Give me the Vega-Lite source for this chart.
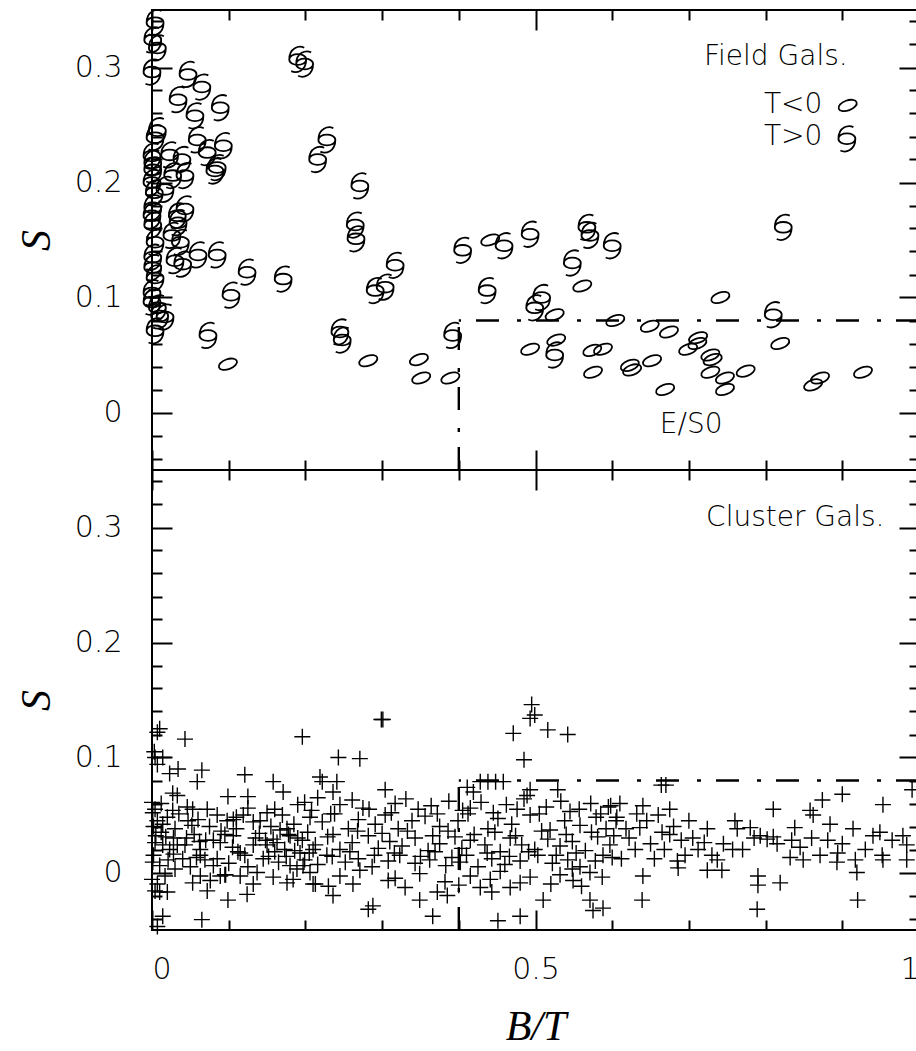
{
  "$schema": "https://vega.github.io/schema/vega-lite/v6.json",
  "background": "white",
  "padding": {"left": 14, "top": 5, "right": 0, "bottom": 0},
  "spacing": 0,
  "bounds": "flush",
  "datasets": {
    "field": [
      {"bt":0.004,"s":0.339,"type":"T>0"},{"bt":0.001,"s":0.324,"type":"T>0"},{"bt":0.007,"s":0.317,"type":"T>0"},{"bt":0.000,"s":0.296,"type":"T>0"},
      {"bt":0.007,"s":0.245,"type":"T>0"},{"bt":0.004,"s":0.239,"type":"T>0"},{"bt":0.000,"s":0.223,"type":"T>0"},{"bt":0.001,"s":0.217,"type":"T>0"},
      {"bt":0.001,"s":0.211,"type":"T>0"},{"bt":0.000,"s":0.200,"type":"T>0"},{"bt":0.003,"s":0.191,"type":"T>0"},{"bt":0.001,"s":0.178,"type":"T>0"},
      {"bt":0.000,"s":0.171,"type":"T>0"},{"bt":0.001,"s":0.163,"type":"T>0"},{"bt":0.004,"s":0.148,"type":"T>0"},{"bt":0.001,"s":0.135,"type":"T>0"},
      {"bt":0.001,"s":0.126,"type":"T>0"},{"bt":0.004,"s":0.117,"type":"T>0"},{"bt":0.000,"s":0.104,"type":"T>0"},{"bt":0.000,"s":0.096,"type":"T>0"},
      {"bt":0.007,"s":0.091,"type":"T>0"},{"bt":0.010,"s":0.084,"type":"T>0"},{"bt":0.004,"s":0.071,"type":"T>0"},{"bt":0.017,"s":0.083,"type":"T>0"},
      {"bt":0.047,"s":0.294,"type":"T>0"},{"bt":0.065,"s":0.283,"type":"T>0"},{"bt":0.034,"s":0.272,"type":"T>0"},{"bt":0.089,"s":0.265,"type":"T>0"},
      {"bt":0.056,"s":0.258,"type":"T>0"},{"bt":0.059,"s":0.237,"type":"T>0"},{"bt":0.072,"s":0.226,"type":"T>0"},{"bt":0.093,"s":0.232,"type":"T>0"},
      {"bt":0.082,"s":0.210,"type":"T>0"},{"bt":0.085,"s":0.213,"type":"T>0"},{"bt":0.023,"s":0.224,"type":"T>0"},{"bt":0.039,"s":0.220,"type":"T>0"},
      {"bt":0.043,"s":0.206,"type":"T>0"},{"bt":0.027,"s":0.206,"type":"T>0"},{"bt":0.017,"s":0.194,"type":"T>0"},{"bt":0.033,"s":0.171,"type":"T>0"},
      {"bt":0.043,"s":0.177,"type":"T>0"},{"bt":0.034,"s":0.165,"type":"T>0"},{"bt":0.026,"s":0.154,"type":"T>0"},{"bt":0.037,"s":0.148,"type":"T>0"},
      {"bt":0.040,"s":0.129,"type":"T>0"},{"bt":0.030,"s":0.132,"type":"T>0"},{"bt":0.060,"s":0.137,"type":"T>0"},{"bt":0.085,"s":0.137,"type":"T>0"},
      {"bt":0.124,"s":0.122,"type":"T>0"},{"bt":0.103,"s":0.102,"type":"T>0"},{"bt":0.171,"s":0.116,"type":"T>0"},{"bt":0.073,"s":0.067,"type":"T>0"},
      {"bt":0.190,"s":0.307,"type":"T>0"},{"bt":0.199,"s":0.303,"type":"T>0"},{"bt":0.228,"s":0.237,"type":"T>0"},{"bt":0.216,"s":0.220,"type":"T>0"},
      {"bt":0.271,"s":0.197,"type":"T>0"},{"bt":0.265,"s":0.163,"type":"T>0"},{"bt":0.266,"s":0.151,"type":"T>0"},{"bt":0.317,"s":0.128,"type":"T>0"},
      {"bt":0.304,"s":0.109,"type":"T>0"},{"bt":0.291,"s":0.106,"type":"T>0"},{"bt":0.245,"s":0.070,"type":"T>0"},{"bt":0.248,"s":0.063,"type":"T>0"},
      {"bt":0.392,"s":0.067,"type":"T>0"},{"bt":0.405,"s":0.141,"type":"T>0"},{"bt":0.459,"s":0.145,"type":"T>0"},{"bt":0.493,"s":0.155,"type":"T>0"},
      {"bt":0.567,"s":0.161,"type":"T>0"},{"bt":0.571,"s":0.154,"type":"T>0"},{"bt":0.600,"s":0.145,"type":"T>0"},{"bt":0.548,"s":0.130,"type":"T>0"},
      {"bt":0.437,"s":0.106,"type":"T>0"},{"bt":0.499,"s":0.091,"type":"T>0"},{"bt":0.508,"s":0.100,"type":"T>0"},{"bt":0.525,"s":0.050,"type":"T>0"},
      {"bt":0.810,"s":0.085,"type":"T>0"},{"bt":0.823,"s":0.161,"type":"T>0"},
      {"bt":0.099,"s":0.042,"type":"T<0"},{"bt":0.282,"s":0.045,"type":"T<0"},{"bt":0.348,"s":0.046,"type":"T<0"},{"bt":0.351,"s":0.030,"type":"T<0"},
      {"bt":0.389,"s":0.030,"type":"T<0"},{"bt":0.441,"s":0.150,"type":"T<0"},{"bt":0.561,"s":0.110,"type":"T<0"},{"bt":0.525,"s":0.085,"type":"T<0"},
      {"bt":0.604,"s":0.080,"type":"T<0"},{"bt":0.493,"s":0.055,"type":"T<0"},{"bt":0.527,"s":0.063,"type":"T<0"},{"bt":0.574,"s":0.054,"type":"T<0"},
      {"bt":0.588,"s":0.055,"type":"T<0"},{"bt":0.575,"s":0.035,"type":"T<0"},{"bt":0.623,"s":0.041,"type":"T<0"},{"bt":0.626,"s":0.037,"type":"T<0"},
      {"bt":0.649,"s":0.075,"type":"T<0"},{"bt":0.674,"s":0.070,"type":"T<0"},{"bt":0.652,"s":0.045,"type":"T<0"},{"bt":0.669,"s":0.020,"type":"T<0"},
      {"bt":0.699,"s":0.055,"type":"T<0"},{"bt":0.712,"s":0.065,"type":"T<0"},{"bt":0.711,"s":0.060,"type":"T<0"},{"bt":0.728,"s":0.050,"type":"T<0"},
      {"bt":0.731,"s":0.046,"type":"T<0"},{"bt":0.728,"s":0.035,"type":"T<0"},{"bt":0.747,"s":0.030,"type":"T<0"},{"bt":0.747,"s":0.020,"type":"T<0"},
      {"bt":0.774,"s":0.036,"type":"T<0"},{"bt":0.741,"s":0.100,"type":"T<0"},{"bt":0.819,"s":0.060,"type":"T<0"},{"bt":0.862,"s":0.024,"type":"T<0"},
      {"bt":0.871,"s":0.030,"type":"T<0"},{"bt":0.927,"s":0.035,"type":"T<0"}
    ],
    "cluster": [
      {"bt":0.007,"s":0.122},{"bt":0.010,"s":0.125},{"bt":0.043,"s":0.116},{"bt":0.003,"s":0.105},{"bt":0.004,"s":0.100},{"bt":0.007,"s":0.094},
      {"bt":0.014,"s":0.100},{"bt":0.023,"s":0.086},{"bt":0.034,"s":0.090},{"bt":0.065,"s":0.089},{"bt":0.059,"s":0.079},{"bt":0.121,"s":0.085},
      {"bt":0.158,"s":0.079},{"bt":0.171,"s":0.070},{"bt":0.196,"s":0.118},{"bt":0.190,"s":0.059},{"bt":0.027,"s":0.069},{"bt":0.033,"s":0.067},
      {"bt":0.099,"s":0.066},{"bt":0.125,"s":0.066},{"bt":0.000,"s":0.061},{"bt":0.004,"s":0.055},{"bt":0.001,"s":0.052},{"bt":0.007,"s":0.045},
      {"bt":0.014,"s":0.042},{"bt":0.027,"s":0.054},{"bt":0.046,"s":0.057},{"bt":0.053,"s":0.055},{"bt":0.072,"s":0.055},{"bt":0.047,"s":0.045},
      {"bt":0.052,"s":0.041},{"bt":0.098,"s":0.045},{"bt":0.106,"s":0.046},{"bt":0.119,"s":0.050},{"bt":0.132,"s":0.044},{"bt":0.141,"s":0.045},
      {"bt":0.167,"s":0.037},{"bt":0.176,"s":0.038},{"bt":0.163,"s":0.026},{"bt":0.180,"s":0.032},{"bt":0.004,"s":0.026},{"bt":0.014,"s":0.024},
      {"bt":0.023,"s":0.020},{"bt":0.033,"s":0.024},{"bt":0.043,"s":0.024},{"bt":0.063,"s":0.020},{"bt":0.080,"s":0.028},{"bt":0.089,"s":0.026},
      {"bt":0.106,"s":0.032},{"bt":0.115,"s":0.017},{"bt":0.121,"s":0.015},{"bt":0.132,"s":0.024},{"bt":0.150,"s":0.024},{"bt":0.158,"s":0.029},
      {"bt":0.173,"s":0.020},{"bt":0.193,"s":0.017},{"bt":0.210,"s":0.020},{"bt":0.001,"s":0.009},{"bt":0.010,"s":0.006},{"bt":0.021,"s":0.011},
      {"bt":0.063,"s":0.015},{"bt":0.069,"s":0.011},{"bt":0.080,"s":0.006},{"bt":0.095,"s":-0.002},{"bt":0.096,"s":-0.002},{"bt":0.115,"s":-0.003},
      {"bt":0.137,"s":0.000},{"bt":0.158,"s":-0.004},{"bt":0.180,"s":0.006},{"bt":0.189,"s":0.003},{"bt":0.197,"s":0.006},{"bt":0.210,"s":-0.010},
      {"bt":0.000,"s":-0.006},{"bt":0.007,"s":-0.010},{"bt":0.017,"s":-0.003},{"bt":0.053,"s":-0.009},{"bt":0.063,"s":-0.003},{"bt":0.076,"s":-0.007},
      {"bt":0.089,"s":-0.003},{"bt":0.132,"s":-0.010},{"bt":0.176,"s":-0.009},{"bt":0.184,"s":-0.006},{"bt":0.004,"s":-0.016},{"bt":0.010,"s":-0.017},
      {"bt":0.020,"s":-0.017},{"bt":0.072,"s":-0.016},{"bt":0.124,"s":-0.019},{"bt":0.099,"s":-0.024},{"bt":0.014,"s":-0.038},{"bt":0.065,"s":-0.041},
      {"bt":0.007,"s":-0.047},
      {"bt":0.012,"s":0.035},{"bt":0.030,"s":0.038},{"bt":0.055,"s":0.033},{"bt":0.075,"s":0.040},{"bt":0.090,"s":0.036},{"bt":0.110,"s":0.038},
      {"bt":0.140,"s":0.034},{"bt":0.155,"s":0.040},{"bt":0.185,"s":0.042},{"bt":0.020,"s":0.048},{"bt":0.060,"s":0.046},{"bt":0.085,"s":0.050},
      {"bt":0.125,"s":0.056},{"bt":0.150,"s":0.052},{"bt":0.170,"s":0.050},{"bt":0.005,"s":0.032},{"bt":0.040,"s":0.012},{"bt":0.050,"s":0.005},
      {"bt":0.085,"s":0.012},{"bt":0.100,"s":0.008},{"bt":0.125,"s":0.005},{"bt":0.145,"s":0.012},{"bt":0.165,"s":0.009},{"bt":0.175,"s":0.014},
      {"bt":0.030,"s":0.003},{"bt":0.045,"s":0.030},{"bt":0.070,"s":0.028},{"bt":0.105,"s":0.022},{"bt":0.135,"s":0.030},{"bt":0.160,"s":0.018},
      {"bt":0.190,"s":0.030},{"bt":0.002,"s":0.015},{"bt":0.002,"s":0.040},{"bt":0.012,"s":0.060},{"bt":0.028,"s":0.030},
      {"bt":0.018,"s":0.031},{"bt":0.062,"s":0.027},{"bt":0.095,"s":0.033},{"bt":0.148,"s":0.028},{"bt":0.178,"s":0.033},
      {"bt":0.028,"s":0.016},{"bt":0.058,"s":0.013},{"bt":0.112,"s":0.018},{"bt":0.152,"s":0.014},{"bt":0.186,"s":0.019},
      {"bt":0.035,"s":0.051},{"bt":0.110,"s":0.048},{"bt":0.160,"s":0.055},
      {"bt":0.495,"s":0.146},{"bt":0.499,"s":0.137},{"bt":0.493,"s":0.134},{"bt":0.471,"s":0.121},{"bt":0.516,"s":0.124},{"bt":0.542,"s":0.120},
      {"bt":0.485,"s":0.098},{"bt":0.299,"s":0.133},{"bt":0.301,"s":0.133},{"bt":0.243,"s":0.100},{"bt":0.271,"s":0.099},{"bt":0.219,"s":0.083},
      {"bt":0.222,"s":0.079},{"bt":0.241,"s":0.079},{"bt":0.236,"s":0.070},{"bt":0.304,"s":0.072},{"bt":0.411,"s":0.074},{"bt":0.419,"s":0.070},
      {"bt":0.493,"s":0.072},{"bt":0.489,"s":0.067},{"bt":0.529,"s":0.072},{"bt":0.428,"s":0.079},{"bt":0.438,"s":0.079},{"bt":0.448,"s":0.079},
      {"bt":0.458,"s":0.079},{"bt":0.213,"s":-0.010},{"bt":0.236,"s":-0.020},{"bt":0.282,"s":-0.032},{"bt":0.288,"s":-0.029},{"bt":0.308,"s":-0.007},
      {"bt":0.349,"s":-0.024},{"bt":0.372,"s":-0.017},{"bt":0.385,"s":-0.020},{"bt":0.366,"s":-0.038},{"bt":0.451,"s":-0.042},{"bt":0.480,"s":-0.038},
      {"bt":0.443,"s":-0.017},{"bt":0.441,"s":-0.006},{"bt":0.467,"s":-0.013},{"bt":0.480,"s":-0.009},{"bt":0.510,"s":-0.024},{"bt":0.549,"s":-0.007},
      {"bt":0.571,"s":-0.024},{"bt":0.588,"s":-0.031},{"bt":0.575,"s":-0.033},{"bt":0.587,"s":-0.004},{"bt":0.548,"s":0.003},
      {"bt":0.199,"s":0.061},{"bt":0.216,"s":0.065},{"bt":0.245,"s":0.059},{"bt":0.261,"s":0.063},{"bt":0.275,"s":0.056},{"bt":0.317,"s":0.060},
      {"bt":0.331,"s":0.064},{"bt":0.364,"s":0.058},{"bt":0.387,"s":0.062},{"bt":0.415,"s":0.056},{"bt":0.429,"s":0.061},{"bt":0.462,"s":0.059},
      {"bt":0.485,"s":0.064},{"bt":0.514,"s":0.057},{"bt":0.533,"s":0.062},{"bt":0.557,"s":0.055},{"bt":0.572,"s":0.060},{"bt":0.598,"s":0.058},
      {"bt":0.206,"s":0.048},{"bt":0.222,"s":0.044},{"bt":0.233,"s":0.051},{"bt":0.256,"s":0.038},{"bt":0.269,"s":0.046},{"bt":0.291,"s":0.042},
      {"bt":0.304,"s":0.050},{"bt":0.321,"s":0.038},{"bt":0.339,"s":0.045},{"bt":0.356,"s":0.049},{"bt":0.375,"s":0.040},{"bt":0.399,"s":0.045},
      {"bt":0.412,"s":0.051},{"bt":0.438,"s":0.038},{"bt":0.451,"s":0.047},{"bt":0.469,"s":0.042},{"bt":0.493,"s":0.050},{"bt":0.519,"s":0.037},
      {"bt":0.538,"s":0.045},{"bt":0.558,"s":0.041},{"bt":0.579,"s":0.048},{"bt":0.592,"s":0.038},{"bt":0.605,"s":0.045},
      {"bt":0.196,"s":0.028},{"bt":0.213,"s":0.024},{"bt":0.229,"s":0.031},{"bt":0.245,"s":0.020},{"bt":0.261,"s":0.026},{"bt":0.282,"s":0.032},
      {"bt":0.295,"s":0.021},{"bt":0.310,"s":0.027},{"bt":0.326,"s":0.023},{"bt":0.343,"s":0.030},{"bt":0.360,"s":0.019},{"bt":0.375,"s":0.025},
      {"bt":0.395,"s":0.031},{"bt":0.404,"s":0.021},{"bt":0.415,"s":0.028},{"bt":0.434,"s":0.024},{"bt":0.454,"s":0.018},{"bt":0.467,"s":0.030},
      {"bt":0.482,"s":0.024},{"bt":0.499,"s":0.020},{"bt":0.516,"s":0.029},{"bt":0.532,"s":0.023},{"bt":0.548,"s":0.027},{"bt":0.565,"s":0.019},
      {"bt":0.581,"s":0.031},{"bt":0.597,"s":0.024},
      {"bt":0.199,"s":0.011},{"bt":0.216,"s":0.007},{"bt":0.235,"s":0.014},{"bt":0.252,"s":0.009},{"bt":0.269,"s":0.012},{"bt":0.287,"s":0.005},
      {"bt":0.308,"s":0.010},{"bt":0.323,"s":0.015},{"bt":0.343,"s":0.008},{"bt":0.362,"s":0.011},{"bt":0.383,"s":0.006},{"bt":0.391,"s":0.013},
      {"bt":0.402,"s":0.009},{"bt":0.425,"s":0.005},{"bt":0.443,"s":0.012},{"bt":0.460,"s":0.007},{"bt":0.480,"s":0.010},{"bt":0.503,"s":0.015},
      {"bt":0.522,"s":0.008},{"bt":0.542,"s":0.011},{"bt":0.558,"s":0.005},{"bt":0.578,"s":0.010},{"bt":0.600,"s":0.013},
      {"bt":0.206,"s":0.000},{"bt":0.245,"s":-0.003},{"bt":0.271,"s":0.002},{"bt":0.317,"s":-0.005},{"bt":0.349,"s":-0.001},{"bt":0.382,"s":-0.008},
      {"bt":0.415,"s":-0.003},{"bt":0.454,"s":0.001},{"bt":0.493,"s":-0.004},{"bt":0.532,"s":-0.002},{"bt":0.571,"s":0.000},
      {"bt":0.208,"s":0.054},{"bt":0.238,"s":0.051},{"bt":0.283,"s":0.055},{"bt":0.312,"s":0.052},{"bt":0.347,"s":0.055},{"bt":0.372,"s":0.051},
      {"bt":0.405,"s":0.054},{"bt":0.445,"s":0.052},{"bt":0.476,"s":0.055},{"bt":0.505,"s":0.051},{"bt":0.545,"s":0.053},{"bt":0.585,"s":0.051},
      {"bt":0.203,"s":0.035},{"bt":0.236,"s":0.033},{"bt":0.268,"s":0.036},{"bt":0.300,"s":0.034},{"bt":0.333,"s":0.036},{"bt":0.366,"s":0.032},
      {"bt":0.386,"s":0.036},{"bt":0.420,"s":0.033},{"bt":0.447,"s":0.035},{"bt":0.474,"s":0.032},{"bt":0.508,"s":0.036},{"bt":0.540,"s":0.033},
      {"bt":0.573,"s":0.035},{"bt":0.602,"s":0.032},
      {"bt":0.205,"s":0.017},{"bt":0.228,"s":0.015},{"bt":0.258,"s":0.018},{"bt":0.290,"s":0.015},{"bt":0.316,"s":0.017},{"bt":0.350,"s":0.014},
      {"bt":0.369,"s":0.018},{"bt":0.410,"s":0.015},{"bt":0.437,"s":0.017},{"bt":0.466,"s":0.014},{"bt":0.491,"s":0.018},{"bt":0.527,"s":0.015},
      {"bt":0.553,"s":0.017},{"bt":0.588,"s":0.015},
      {"bt":0.230,"s":-0.012},{"bt":0.262,"s":-0.010},{"bt":0.330,"s":-0.013},{"bt":0.400,"s":-0.011},{"bt":0.428,"s":-0.013},{"bt":0.520,"s":-0.010},
      {"bt":0.560,"s":-0.012},
      {"bt":0.664,"s":0.076},{"bt":0.670,"s":0.076},{"bt":0.595,"s":0.057},{"bt":0.606,"s":0.048},{"bt":0.632,"s":0.051},{"bt":0.636,"s":0.039},
      {"bt":0.665,"s":0.035},{"bt":0.675,"s":0.033},{"bt":0.724,"s":0.038},{"bt":0.760,"s":0.045},{"bt":0.763,"s":0.038},{"bt":0.780,"s":0.039},
      {"bt":0.810,"s":0.055},{"bt":0.793,"s":0.032},{"bt":0.802,"s":0.029},{"bt":0.810,"s":0.031},{"bt":0.838,"s":0.039},{"bt":0.834,"s":0.028},
      {"bt":0.858,"s":0.054},{"bt":0.862,"s":0.050},{"bt":0.874,"s":0.063},{"bt":0.900,"s":0.068},{"bt":0.884,"s":0.042},{"bt":0.881,"s":0.028},
      {"bt":0.914,"s":0.038},{"bt":0.940,"s":0.032},{"bt":0.949,"s":0.035},{"bt":0.953,"s":0.059},{"bt":0.952,"s":0.015},{"bt":0.979,"s":0.032},
      {"bt":0.991,"s":0.072},{"bt":0.984,"s":0.011},{"bt":0.984,"s":0.024},{"bt":0.639,"s":-0.024},{"bt":0.640,"s":-0.003},{"bt":0.686,"s":0.004},
      {"bt":0.724,"s":0.002},{"bt":0.743,"s":0.002},{"bt":0.737,"s":0.011},{"bt":0.757,"s":0.020},{"bt":0.790,"s":-0.003},{"bt":0.790,"s":-0.011},
      {"bt":0.789,"s":-0.032},{"bt":0.819,"s":-0.009},{"bt":0.832,"s":0.013},{"bt":0.849,"s":0.011},{"bt":0.871,"s":0.015},{"bt":0.894,"s":0.017},
      {"bt":0.893,"s":0.009},{"bt":0.917,"s":0.011},{"bt":0.919,"s":0.000},{"bt":0.920,"s":-0.024},{"bt":0.953,"s":0.011},
      {"bt":0.610,"s":0.060},{"bt":0.622,"s":0.030},{"bt":0.630,"s":0.020},{"bt":0.645,"s":0.045},{"bt":0.650,"s":0.025},{"bt":0.655,"s":0.012},
      {"bt":0.660,"s":0.050},{"bt":0.668,"s":0.020},{"bt":0.680,"s":0.040},{"bt":0.690,"s":0.028},{"bt":0.695,"s":0.015},{"bt":0.700,"s":0.045},
      {"bt":0.612,"s":0.012},{"bt":0.618,"s":0.038},{"bt":0.640,"s":0.058},{"bt":0.675,"s":0.055},{"bt":0.685,"s":0.010},{"bt":0.705,"s":0.030},
      {"bt":0.712,"s":0.020},{"bt":0.720,"s":0.026},{"bt":0.730,"s":0.015},{"bt":0.745,"s":0.025},{"bt":0.770,"s":0.020},{"bt":0.785,"s":0.030},
      {"bt":0.815,"s":0.025},{"bt":0.845,"s":0.022},{"bt":0.860,"s":0.030},{"bt":0.900,"s":0.025},{"bt":0.930,"s":0.020},{"bt":0.965,"s":0.028}
    ],
    "cutV": [{"bt":0.4,"s":-0.05,"bt2":0.4,"s2":0.08}],
    "cutH": [{"bt":1.0,"s":0.08,"bt2":0.4,"s2":0.08}],
    "fieldNotes": [
      {"bt":0.907,"s":0.309,"label":"Field Gals."},
      {"bt":0.874,"s":0.267,"label":"T<0"},
      {"bt":0.874,"s":0.240,"label":"T>0"}
    ],
    "fieldKey": [
      {"bt":0.907,"s":0.267,"type":"T<0"},
      {"bt":0.906,"s":0.238,"type":"T>0"}
    ],
    "boxNote": [{"bt":0.703,"s":-0.011,"label":"E/S0"}],
    "clusterNote": [{"bt":0.955,"s":0.308,"label":"Cluster Gals."}]
  },
  "vconcat": [
    {
      "width": 767,
      "height": 460,
      "resolve": {"axis": {"x": "independent", "y": "independent"}},
      "layer": [
        {
          "data": {"name": "field"},
          "transform": [{"filter": "datum.type === 'T<0'"}],
          "mark": {"type": "point", "shape": "M0.893,-0.325A0.95,0.5,-20,1,0,-0.893,0.325A0.95,0.5,-20,1,0,0.893,-0.325Z", "size": 400, "filled": false, "stroke": "black", "strokeWidth": 1.8, "opacity": 1},
          "encoding": {
            "x": {"field": "bt", "type": "quantitative", "scale": {"domain": [0, 1], "nice": false, "zero": false},
                  "axis": {"orient": "bottom", "values": [0, 0.5, 1], "tickSize": 20, "offset": -20, "labels": false, "title": null}},
            "y": {"field": "s", "type": "quantitative", "scale": {"domain": [-0.05, 0.35], "nice": false, "zero": false},
                  "axis": {"orient": "left", "values": [0, 0.1, 0.2, 0.3], "format": ".1~f", "tickSize": 20, "offset": -20, "labelPadding": 30, "title": "S", "titlePadding": 16}}
          }
        },
        {
          "data": {"name": "field"},
          "transform": [{"filter": "datum.type === 'T>0'"}],
          "mark": {"type": "point", "shape": "M0.5,-0.9C0.1,-1.1,-0.65,-0.9,-0.65,0C-0.65,0.55,0.65,0.55,0.65,0C0.65,-0.55,-0.65,-0.55,-0.65,0M0.65,0C0.65,0.9,-0.1,1.1,-0.5,0.9", "size": 676, "filled": false, "stroke": "black", "strokeWidth": 1.8, "opacity": 1},
          "encoding": {
            "x": {"field": "bt", "type": "quantitative", "scale": {"domain": [0, 1], "nice": false, "zero": false},
                  "axis": {"orient": "bottom", "values": [0.1, 0.2, 0.3, 0.4, 0.6, 0.7, 0.8, 0.9], "tickSize": 10, "offset": -10, "labels": false, "title": null}},
            "y": {"field": "s", "type": "quantitative", "scale": {"domain": [-0.05, 0.35], "nice": false, "zero": false},
                  "axis": {"orient": "left", "values": [-0.04, -0.02, 0.02, 0.04, 0.06, 0.08, 0.12, 0.14, 0.16, 0.18, 0.22, 0.24, 0.26, 0.28, 0.32, 0.34], "tickSize": 10, "offset": -10, "labels": false, "title": null}}
          }
        },
        {
          "data": {"name": "cutV"},
          "mark": {"type": "rule", "stroke": "black", "strokeWidth": 2.4, "strokeDash": [23, 15, 4, 18]},
          "encoding": {
            "x": {"field": "bt", "type": "quantitative", "scale": {"domain": [0, 1], "nice": false, "zero": false},
                  "axis": {"orient": "top", "values": [0, 0.5, 1], "tickSize": 20, "offset": -20, "labels": false, "title": null}},
            "y": {"field": "s", "type": "quantitative", "scale": {"domain": [-0.05, 0.35], "nice": false, "zero": false},
                  "axis": {"orient": "right", "values": [0, 0.1, 0.2, 0.3], "tickSize": 20, "offset": -20, "labels": false, "title": null}},
            "x2": {"field": "bt2"},
            "y2": {"field": "s2"}
          }
        },
        {
          "data": {"name": "cutH"},
          "mark": {"type": "rule", "stroke": "black", "strokeWidth": 2.4, "strokeDash": [23, 15, 4, 18]},
          "encoding": {
            "x": {"field": "bt", "type": "quantitative", "scale": {"domain": [0, 1], "nice": false, "zero": false},
                  "axis": {"orient": "top", "values": [0.1, 0.2, 0.3, 0.4, 0.6, 0.7, 0.8, 0.9], "tickSize": 10, "offset": -10, "labels": false, "title": null}},
            "y": {"field": "s", "type": "quantitative", "scale": {"domain": [-0.05, 0.35], "nice": false, "zero": false},
                  "axis": {"orient": "right", "values": [-0.04, -0.02, 0.02, 0.04, 0.06, 0.08, 0.12, 0.14, 0.16, 0.18, 0.22, 0.24, 0.26, 0.28, 0.32, 0.34], "tickSize": 10, "offset": -10, "labels": false, "title": null}},
            "x2": {"field": "bt2"},
            "y2": {"field": "s2"}
          }
        },
        {
          "data": {"name": "fieldNotes"},
          "mark": {"type": "text", "align": "right", "baseline": "middle", "font": "DejaVu Sans", "fontWeight": 200, "fontSize": 28, "color": "black"},
          "encoding": {
            "x": {"field": "bt", "type": "quantitative", "axis": null},
            "y": {"field": "s", "type": "quantitative", "axis": null},
            "text": {"field": "label"}
          }
        },
        {
          "data": {"name": "boxNote"},
          "mark": {"type": "text", "align": "center", "baseline": "middle", "font": "DejaVu Sans", "fontWeight": 200, "fontSize": 28, "color": "black"},
          "encoding": {
            "x": {"field": "bt", "type": "quantitative", "axis": null},
            "y": {"field": "s", "type": "quantitative", "axis": null},
            "text": {"field": "label"}
          }
        },
        {
          "data": {"name": "fieldKey"},
          "transform": [{"filter": "datum.type === 'T<0'"}],
          "mark": {"type": "point", "shape": "M0.893,-0.325A0.95,0.5,-20,1,0,-0.893,0.325A0.95,0.5,-20,1,0,0.893,-0.325Z", "size": 400, "filled": false, "stroke": "black", "strokeWidth": 1.8, "opacity": 1},
          "encoding": {
            "x": {"field": "bt", "type": "quantitative", "axis": null},
            "y": {"field": "s", "type": "quantitative", "axis": null}
          }
        },
        {
          "data": {"name": "fieldKey"},
          "transform": [{"filter": "datum.type === 'T>0'"}],
          "mark": {"type": "point", "shape": "M0.5,-0.9C0.1,-1.1,-0.65,-0.9,-0.65,0C-0.65,0.55,0.65,0.55,0.65,0C0.65,-0.55,-0.65,-0.55,-0.65,0M0.65,0C0.65,0.9,-0.1,1.1,-0.5,0.9", "size": 676, "filled": false, "stroke": "black", "strokeWidth": 1.8, "opacity": 1},
          "encoding": {
            "x": {"field": "bt", "type": "quantitative", "axis": null},
            "y": {"field": "s", "type": "quantitative", "axis": null}
          }
        }
      ]
    },
    {
      "width": 767,
      "height": 460,
      "resolve": {"axis": {"x": "independent", "y": "independent"}},
      "layer": [
        {
          "data": {"name": "cluster"},
          "mark": {"type": "point", "shape": "M-1,0H1M0,-1V1", "size": 256, "filled": false, "stroke": "black", "strokeWidth": 1.4, "opacity": 1},
          "encoding": {
            "x": {"field": "bt", "type": "quantitative", "scale": {"domain": [0, 1], "nice": false, "zero": false},
                  "axis": {"orient": "bottom", "values": [0, 0.5, 1], "format": ".1~f", "tickSize": 20, "offset": -20, "labelPadding": 24, "title": "B/T", "titlePadding": 22}},
            "y": {"field": "s", "type": "quantitative", "scale": {"domain": [-0.05, 0.35], "nice": false, "zero": false},
                  "axis": {"orient": "left", "values": [0, 0.1, 0.2, 0.3], "format": ".1~f", "tickSize": 20, "offset": -20, "labelPadding": 30, "title": "S", "titlePadding": 16}}
          }
        },
        {
          "data": {"name": "cutV"},
          "mark": {"type": "rule", "stroke": "black", "strokeWidth": 2.4, "strokeDash": [23, 15, 4, 18]},
          "encoding": {
            "x": {"field": "bt", "type": "quantitative", "scale": {"domain": [0, 1], "nice": false, "zero": false},
                  "axis": {"orient": "bottom", "values": [0.1, 0.2, 0.3, 0.4, 0.6, 0.7, 0.8, 0.9], "tickSize": 10, "offset": -10, "labels": false, "title": null}},
            "y": {"field": "s", "type": "quantitative", "scale": {"domain": [-0.05, 0.35], "nice": false, "zero": false},
                  "axis": {"orient": "left", "values": [-0.04, -0.02, 0.02, 0.04, 0.06, 0.08, 0.12, 0.14, 0.16, 0.18, 0.22, 0.24, 0.26, 0.28, 0.32, 0.34], "tickSize": 10, "offset": -10, "labels": false, "title": null}},
            "x2": {"field": "bt2"},
            "y2": {"field": "s2"}
          }
        },
        {
          "data": {"name": "cutH"},
          "mark": {"type": "rule", "stroke": "black", "strokeWidth": 2.4, "strokeDash": [23, 15, 4, 18]},
          "encoding": {
            "x": {"field": "bt", "type": "quantitative", "scale": {"domain": [0, 1], "nice": false, "zero": false},
                  "axis": {"orient": "top", "values": [0, 0.5, 1], "tickSize": 20, "offset": -20, "labels": false, "title": null}},
            "y": {"field": "s", "type": "quantitative", "scale": {"domain": [-0.05, 0.35], "nice": false, "zero": false},
                  "axis": {"orient": "right", "values": [0, 0.1, 0.2, 0.3], "tickSize": 20, "offset": -20, "labels": false, "title": null}},
            "x2": {"field": "bt2"},
            "y2": {"field": "s2"}
          }
        },
        {
          "data": {"name": "clusterNote"},
          "mark": {"type": "text", "align": "right", "baseline": "middle", "font": "DejaVu Sans", "fontWeight": 200, "fontSize": 28, "color": "black"},
          "encoding": {
            "x": {"field": "bt", "type": "quantitative", "scale": {"domain": [0, 1], "nice": false, "zero": false},
                  "axis": {"orient": "top", "values": [0.1, 0.2, 0.3, 0.4, 0.6, 0.7, 0.8, 0.9], "tickSize": 10, "offset": -10, "labels": false, "title": null}},
            "y": {"field": "s", "type": "quantitative", "scale": {"domain": [-0.05, 0.35], "nice": false, "zero": false},
                  "axis": {"orient": "right", "values": [-0.04, -0.02, 0.02, 0.04, 0.06, 0.08, 0.12, 0.14, 0.16, 0.18, 0.22, 0.24, 0.26, 0.28, 0.32, 0.34], "tickSize": 10, "offset": -10, "labels": false, "title": null}},
            "text": {"field": "label"}
          }
        }
      ]
    }
  ],
  "config": {
    "view": {"stroke": "black", "strokeWidth": 2},
    "axis": {
      "domain": false,
      "grid": false,
      "ticks": true,
      "tickColor": "black",
      "tickWidth": 2,
      "labelFont": "DejaVu Sans",
      "labelFontWeight": 200,
      "labelFontSize": 30,
      "labelColor": "black",
      "labelBaseline": "middle",
      "titleColor": "black",
      "titleFont": "Liberation Serif",
      "titleFontStyle": "italic",
      "titleFontWeight": "normal",
      "titleFontSize": 42
    },
    "axisBottom": {"labelBaseline": "top"}
  }
}
